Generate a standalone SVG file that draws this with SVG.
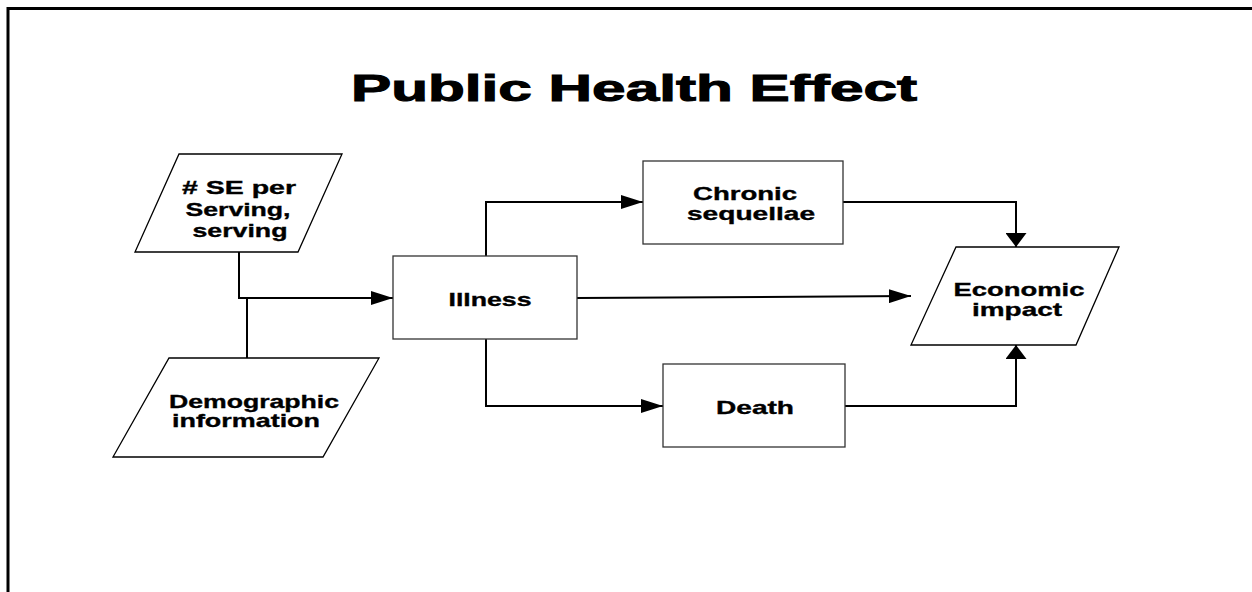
<svg xmlns="http://www.w3.org/2000/svg" width="1252" height="592" viewBox="0 0 1252 592">
<style>
.frame{fill:none;stroke:#000;stroke-width:3}
.box{fill:#fff;stroke:#333;stroke-width:1.3}
.para{fill:#fff;stroke:#000;stroke-width:1.3}
.lbl{font-family:"Liberation Sans",Arial,sans-serif;font-weight:bold;font-size:18.5px;fill:#000;stroke:#000;stroke-width:0.35;text-anchor:middle}
.title{font-family:"Liberation Sans",Arial,sans-serif;font-weight:bold;font-size:37px;fill:#000;stroke:#000;stroke-width:1;text-anchor:middle}
.conn{fill:none;stroke:#000;stroke-width:2}
</style>
<defs>
<marker id="ah" markerUnits="userSpaceOnUse" markerWidth="22" markerHeight="14" refX="22" refY="7" orient="auto">
<path d="M0,0 L22,7 L0,14 Z" fill="#000"/>
</marker>
<marker id="av" markerUnits="userSpaceOnUse" markerWidth="14" markerHeight="21" refX="14" refY="10.5" orient="auto">
<path d="M0,0 L14,10.5 L0,21 Z" fill="#000"/>
</marker>
</defs>
<rect width="1252" height="592" fill="#fff"/>
<path class="frame" d="M8,592 V8.5 H1252"/>
<text class="title" x="634" y="101" textLength="566" lengthAdjust="spacingAndGlyphs">Public Health Effect</text>
<g id="connectors">
<path class="conn" d="M239,252 V298 H393" marker-end="url(#ah)"/>
<path class="conn" d="M247,298 V358"/>
<path class="conn" d="M486,256 V202 H643" marker-end="url(#ah)"/>
<path class="conn" d="M577,298 L911,296" marker-end="url(#ah)"/>
<path class="conn" d="M486,339 V406 H663" marker-end="url(#ah)"/>
<path class="conn" d="M843,202 H1016 V247" marker-end="url(#av)"/>
<path class="conn" d="M845,406 H1016 V345" marker-end="url(#av)"/>
</g>
<g id="se">
<polygon class="para" points="179,154 342,154 298,252 135,252"/>
<text class="lbl" x="239" y="194" textLength="114" lengthAdjust="spacingAndGlyphs"># SE per</text>
<text class="lbl" x="238" y="216" textLength="105" lengthAdjust="spacingAndGlyphs">Serving,</text>
<text class="lbl" x="240" y="237" textLength="95" lengthAdjust="spacingAndGlyphs">serving</text>
</g>
<g id="demographic">
<polygon class="para" points="169,358 379,358 323,457 113,457"/>
<text class="lbl" x="254" y="408" textLength="170" lengthAdjust="spacingAndGlyphs">Demographic</text>
<text class="lbl" x="246" y="427" textLength="148" lengthAdjust="spacingAndGlyphs">information</text>
</g>
<g id="illness">
<rect class="box" x="393" y="256" width="184" height="83"/>
<text class="lbl" x="490" y="306" textLength="83" lengthAdjust="spacingAndGlyphs">Illness</text>
</g>
<g id="chronic">
<rect class="box" x="643" y="161" width="200" height="83"/>
<text class="lbl" x="745" y="200" textLength="104" lengthAdjust="spacingAndGlyphs">Chronic</text>
<text class="lbl" x="751" y="220" textLength="128" lengthAdjust="spacingAndGlyphs">sequellae</text>
</g>
<g id="death">
<rect class="box" x="663" y="364" width="182" height="83"/>
<text class="lbl" x="755" y="414" textLength="78" lengthAdjust="spacingAndGlyphs">Death</text>
</g>
<g id="economic">
<polygon class="para" points="956,247 1119,247 1076,345 911,345"/>
<text class="lbl" x="1019" y="296" textLength="131" lengthAdjust="spacingAndGlyphs">Economic</text>
<text class="lbl" x="1017" y="316" textLength="90" lengthAdjust="spacingAndGlyphs">impact</text>
</g>
</svg>
